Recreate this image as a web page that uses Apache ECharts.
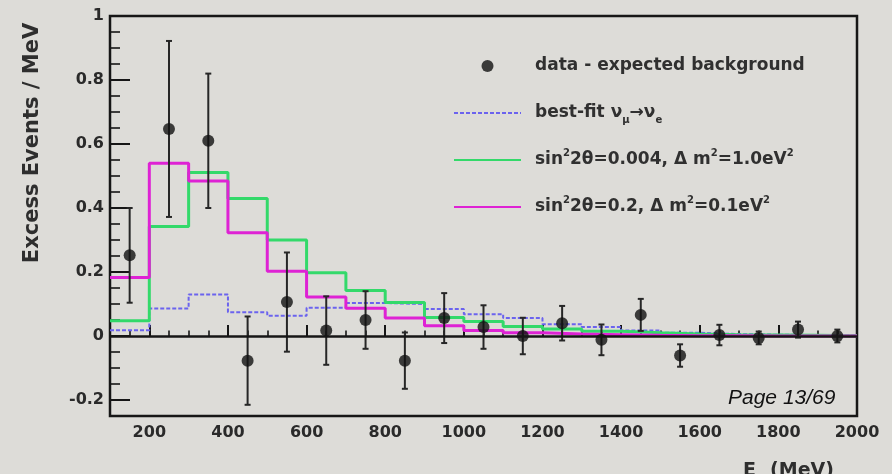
<!DOCTYPE html>
<html>
<head>
<meta charset="utf-8">
<script src="https://cdn.jsdelivr.net/npm/echarts@6/dist/echarts.min.js"></script>
<style>
html, body { margin: 0; padding: 0; background: #dddcd8; }
#chart { width: 892px; height: 474px; }
</style>
</head>
<body>
<div id="chart"></div>
<script>
// 100 MeV wide energy bins, 100 to 2000 MeV
const binEdges = [100, 200, 300, 400, 500, 600, 700, 800, 900, 1000,
                  1100, 1200, 1300, 1400, 1500, 1600, 1700, 1800, 1900, 2000];
const binCenters = [150, 250, 350, 450, 550, 650, 750, 850, 950, 1050,
                    1150, 1250, 1350, 1450, 1550, 1650, 1750, 1850, 1950];

// data minus expected background (events / MeV) and its uncertainty
const excess =    [0.252, 0.647, 0.610, -0.077, 0.106, 0.017, 0.050, -0.077, 0.056, 0.028,
                   0.000, 0.040, -0.012, 0.066, -0.061, 0.003, -0.006, 0.020, 0.000];
const excessErr = [0.148, 0.275, 0.210, 0.138, 0.155, 0.107, 0.090, 0.088, 0.078, 0.068,
                   0.057, 0.054, 0.048, 0.050, 0.035, 0.032, 0.020, 0.025, 0.020];

// predicted excess per bin
const bestFit = [0.018, 0.086, 0.130, 0.074, 0.063, 0.088, 0.103, 0.100, 0.084, 0.068,
                 0.056, 0.037, 0.028, 0.017, 0.010, 0.006, 0.004, 0.003, 0.002];
const osc004 =  [0.048, 0.342, 0.511, 0.430, 0.300, 0.198, 0.142, 0.105, 0.058, 0.045,
                 0.030, 0.022, 0.015, 0.010, 0.006, 0.004, 0.003, 0.002, 0.001];
const osc02 =   [0.183, 0.540, 0.484, 0.323, 0.202, 0.122, 0.087, 0.056, 0.032, 0.017,
                 0.010, 0.006, 0.004, 0.002, 0.001, 0.001, 0.000, 0.000, 0.000];

// axis ticks
const xMajorTicks = [200, 400, 600, 800, 1000, 1200, 1400, 1600, 1800, 2000];
const xMinorTicks = [150, 250, 300, 350, 450, 500, 550, 650, 700, 750, 850, 900, 950,
                     1050, 1100, 1150, 1250, 1300, 1350, 1450, 1500, 1550, 1650, 1700,
                     1750, 1850, 1900, 1950];
const yMajorTicks = [-0.2, 0, 0.2, 0.4, 0.6, 0.8, 1];
const yMinorTicks = [-0.15, -0.1, -0.05, 0.05, 0.1, 0.15, 0.25, 0.3, 0.35, 0.45, 0.5,
                     0.55, 0.65, 0.7, 0.75, 0.85, 0.9, 0.95];

const NAME_DATA = 'data - expected background';
const NAME_BF = 'best-fit νμ→νe';
const NAME_A = 'sin²2θ=0.004, Δ m²=1.0eV²';
const NAME_B = 'sin²2θ=0.2, Δ m²=0.1eV²';
const legendText = {};
legendText[NAME_DATA] = 'data - expected background';
legendText[NAME_BF] = 'best-fit ν{sub|μ}→ν{sub|e}';
legendText[NAME_A] = 'sin{sup|2}2θ=0.004, Δ m{sup|2}=1.0eV{sup|2}';
legendText[NAME_B] = 'sin{sup|2}2θ=0.2, Δ m{sup|2}=0.1eV{sup|2}';

// histogram outline: each bin's value held from its left edge to the right edge
function stepData(vals) {
  const d = vals.map((v, i) => [binEdges[i], v]);
  d.push([binEdges[vals.length], vals[vals.length - 1]]);
  return d;
}

const FONT = 'DejaVu Sans';
const INK = '#161616';
const LINE_ONLY = { opacity: 0 };

const chart = echarts.init(document.getElementById('chart'), null, { renderer: 'canvas' });

chart.setOption({
  animation: false,
  backgroundColor: '#dddcd8',
  grid: {
    left: 110, right: 35, top: 16, bottom: 58,
    show: true, borderColor: INK, borderWidth: 2.5, backgroundColor: 'transparent'
  },
  xAxis: [{
    type: 'value', min: 100, max: 2000, position: 'bottom',
    axisLine: { show: false },
    splitLine: { show: false },
    axisTick: { show: true, inside: true, length: 11, customValues: xMajorTicks,
                lineStyle: { color: INK, width: 2 } },
    axisLabel: { show: true, customValues: xMajorTicks, margin: 9,
                 fontFamily: FONT, fontWeight: 'bold', fontSize: 16, color: '#2a2a2a',
                 formatter: v => String(v) }
  }, {
    type: 'value', min: 100, max: 2000, position: 'bottom',
    axisLine: { show: false }, splitLine: { show: false },
    axisLabel: { show: false },
    axisTick: { show: true, inside: true, length: 5.5, customValues: xMinorTicks,
                lineStyle: { color: INK, width: 1.6 } }
  }],
  yAxis: [{
    type: 'value', min: -0.25, max: 1, position: 'left',
    axisLine: { show: false }, splitLine: { show: false },
    axisTick: { show: true, inside: true, length: 20, customValues: yMajorTicks,
                lineStyle: { color: INK, width: 2 } },
    axisLabel: { show: true, customValues: yMajorTicks, margin: 6,
                 fontFamily: FONT, fontWeight: 'bold', fontSize: 16, color: '#2a2a2a',
                 formatter: v => String(v) }
  }, {
    type: 'value', min: -0.25, max: 1, position: 'left',
    axisLine: { show: false }, splitLine: { show: false },
    axisLabel: { show: false },
    axisTick: { show: true, inside: true, length: 10, customValues: yMinorTicks,
                lineStyle: { color: INK, width: 1.6 } }
  }],
  legend: {
    data: [
      { name: NAME_DATA, icon: 'circle' },
      { name: NAME_BF, itemStyle: LINE_ONLY },
      { name: NAME_A, itemStyle: LINE_ONLY },
      { name: NAME_B, itemStyle: LINE_ONLY }
    ],
    orient: 'vertical', left: 448, top: 49,
    itemWidth: 67, itemHeight: 12, itemGap: 23,
    selectedMode: false,
    formatter: name => legendText[name],
    textStyle: {
      fontFamily: FONT, fontWeight: 'bold', fontSize: 17, color: '#303030',
      lineHeight: 24, padding: [0, 0, 0, 9],
      rich: {
        sub: { fontFamily: FONT, fontWeight: 'bold', fontSize: 10, color: '#303030',
               lineHeight: 12, verticalAlign: 'bottom' },
        sup: { fontFamily: FONT, fontWeight: 'bold', fontSize: 10, color: '#303030',
               lineHeight: 12, verticalAlign: 'top' }
      }
    }
  },
  series: [{
    name: NAME_BF, type: 'line', step: 'end', symbol: 'none',
    data: stepData(bestFit),
    lineStyle: { color: '#6b63ee', width: 2, type: [4, 2] },
    itemStyle: { color: '#6b63ee' },
    z: 2
  }, {
    name: NAME_A, type: 'line', step: 'end', symbol: 'none',
    data: stepData(osc004),
    lineStyle: { color: '#33d96a', width: 3 },
    itemStyle: { color: '#33d96a' },
    z: 2
  }, {
    name: NAME_B, type: 'line', step: 'end', symbol: 'none',
    data: stepData(osc02),
    lineStyle: { color: '#de22d4', width: 3 },
    itemStyle: { color: '#de22d4' },
    z: 2,
    markLine: {
      silent: true, symbol: ['none', 'none'],
      label: { show: false },
      lineStyle: { color: INK, width: 2.5, type: 'solid' },
      data: [{ yAxis: 0 }]
    }
  }, {
    name: 'errors', type: 'custom',
    data: binCenters.map((x, i) => [x, excess[i] - excessErr[i], excess[i] + excessErr[i]]),
    encode: { x: 0, y: [1, 2] },
    renderItem: (params, api) => {
      const lo = api.coord([api.value(0), api.value(1)]);
      const hi = api.coord([api.value(0), api.value(2)]);
      const cap = 3;
      const st = { stroke: '#262626', lineWidth: 2 };
      return {
        type: 'group',
        children: [
          { type: 'line', shape: { x1: lo[0], y1: lo[1], x2: hi[0], y2: hi[1] }, style: st },
          { type: 'line', shape: { x1: lo[0] - cap, y1: lo[1], x2: lo[0] + cap, y2: lo[1] }, style: st },
          { type: 'line', shape: { x1: hi[0] - cap, y1: hi[1], x2: hi[0] + cap, y2: hi[1] }, style: st }
        ]
      };
    },
    z: 3
  }, {
    name: NAME_DATA, type: 'scatter',
    data: binCenters.map((x, i) => [x, excess[i]]),
    symbol: 'circle', symbolSize: 12,
    itemStyle: { color: '#111111' },
    z: 4
  }],
  graphic: [{
    type: 'text', x: 33, y: 143, rotation: Math.PI / 2,
    style: { text: 'Excess Events / MeV', fontFamily: FONT, fontWeight: 'bold', fontSize: 21,
             fill: '#2e2e2e', align: 'center', verticalAlign: 'middle' }
  }, {
    type: 'text', x: 743, y: 459,
    style: {
      text: '{b|E}{s|ν}{b| (MeV)}',
      fontFamily: FONT, fontWeight: 'bold', fontSize: 19, fill: '#2e2e2e',
      rich: {
        b: { fontFamily: FONT, fontWeight: 'bold', fontSize: 19, fill: '#2e2e2e', lineHeight: 24 },
        s: { fontFamily: FONT, fontWeight: 'bold', fontSize: 11, fill: '#2e2e2e', lineHeight: 12, verticalAlign: 'bottom' }
      }
    }
  }, {
    type: 'text', x: 728, y: 398,
    style: { text: 'Page 13/69', fontFamily: 'Liberation Sans', fontStyle: 'italic', fontSize: 21,
             fill: '#111111', align: 'left', verticalAlign: 'middle' }
  }]
});
</script>
</body>
</html>
